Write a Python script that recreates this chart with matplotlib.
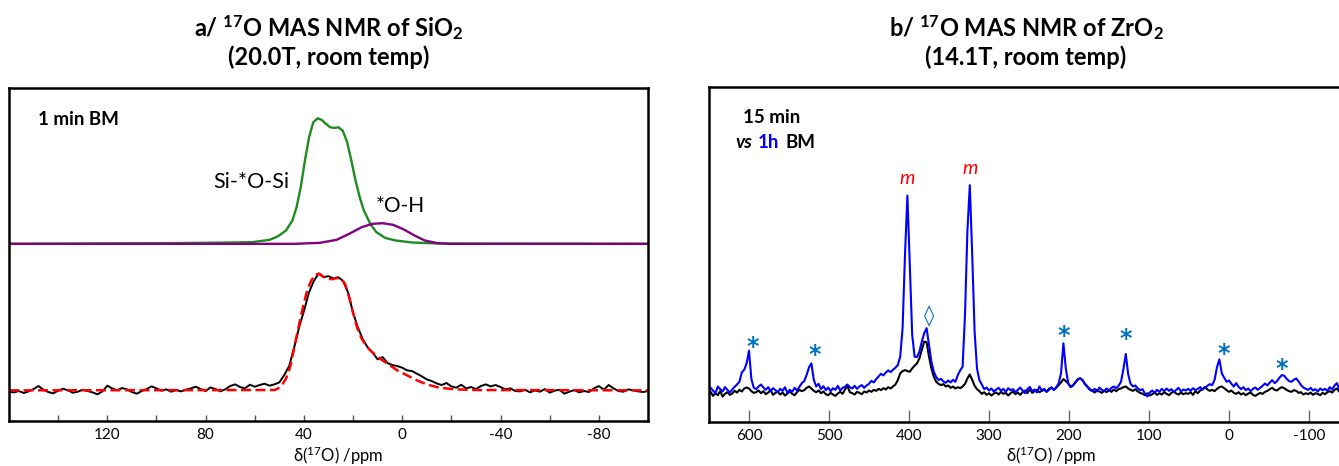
import numpy as np
import matplotlib
matplotlib.use("Agg")
import matplotlib.pyplot as plt
from matplotlib.ticker import MultipleLocator

plt.rcParams["font.family"] = ["Lato", "DejaVu Sans"]
plt.rcParams["mathtext.fontset"] = "custom"
plt.rcParams["mathtext.rm"] = "Lato"
plt.rcParams["mathtext.it"] = "Lato:italic"
plt.rcParams["mathtext.bf"] = "Lato:bold"
plt.rcParams["axes.unicode_minus"] = False

# ---- panel a: SiO2 (20.0 T) ----
# fitted components (ppm, intensity)
green_ppm = [160, 95, 70, 61, 54, 50.7, 47.3, 44.7, 43, 41.3, 39.6, 37.9, 36.2, 34.4, 32.7, 31, 29.3,
             27.6, 25.9, 24.2, 22.4, 20.7, 19, 17.3, 15.6, 13, 10.5, 7, 2.7, -4.1, -14.4, -100]
green_int = [53.2, 53.4, 53.6, 53.7, 54.4, 55.4, 57.2, 60.2, 64.2, 70.2, 78.2, 85.2, 89.7, 90.9, 90.4, 89.2, 88.2,
             88.0, 88.2, 87.2, 83.7, 78.2, 72.2, 67.2, 63.2, 59.2, 56.7, 55.0, 54.2, 53.6, 53.3, 53.2]

purple_ppm = [160, 43.9, 33.6, 26.7, 21.6, 16.5, 12.2, 8, 3.6, -0.7, -5, -9.2, -14.4, -19.5, -100]
purple_int = [53.2, 53.2, 53.5, 54.4, 56.2, 58.2, 59.2, 59.4, 58.9, 57.5, 55.7, 54.2, 53.4, 53.2, 53.2]

fit_ppm = [160, 52, 50.7, 49, 47.3, 45.6, 43.9, 42.2, 40.4, 38.7, 37, 35.3, 33.6, 31.9, 30.2, 28.4, 26.7, 25,
           23.3, 21.6, 19.9, 18.2, 16.5, 14.7, 13, 10, 6, 2, -2, -6, -10, -15, -22, -30, -100]
fit_int = [9.2, 9.3, 9.7, 10.7, 12.7, 16.2, 22.2, 28.2, 34.2, 39.2, 42.2, 44.0, 44.2, 43.2, 42.7, 42.6, 42.9, 42.8,
           41.2, 37.2, 32.2, 27.7, 24.7, 22.7, 21.2, 19.2, 17.2, 15.2, 13.7, 12.2, 11.0, 10.0, 9.5, 9.3, 9.2]

# experimental spectrum, 160 ... -100 ppm every 2 ppm
sio2_ppm = np.arange(160, -101, -2)
sio2_int = [
    8.8, 8.6, 9.0, 8.4, 8.9, 9.6, 10.5, 9.4, 8.7, 8.3,
    9.1, 9.7, 9.2, 8.5, 8.8, 9.4, 9.0, 8.6, 8.0, 8.9,
    10.6, 9.8, 9.2, 9.9, 9.5, 8.7, 8.2, 9.0, 9.6, 10.4,
    9.8, 9.1, 9.5, 8.8, 9.3, 8.9, 9.4, 9.8, 10.3, 9.6,
    9.0, 10.1, 9.6, 8.9, 9.5, 10.5, 11.0, 10.2, 9.8, 10.9,
    10.3, 10.8, 11.2, 10.6, 11.0, 11.6, 13.8, 16.5, 22.0, 28.0,
    33.0, 38.5, 42.0, 44.3, 43.2, 43.5, 42.8, 43.2, 42.0, 38.5,
    32.5, 28.0, 24.5, 22.0, 20.5, 18.5, 19.2, 17.4, 16.8, 16.5,
    16.0, 15.2, 15.0, 14.2, 13.4, 12.5, 12.0, 11.3, 10.8, 11.4,
    10.4, 10.0, 10.9, 9.8, 10.2, 9.6, 10.5, 11.0, 10.4, 10.8,
    10.2, 9.5, 9.8, 9.0, 8.9, 9.4, 8.6, 9.2, 8.8, 9.6,
    8.5, 9.1, 9.4, 8.2, 8.8, 9.3, 8.6, 9.0, 8.7, 9.8,
    10.5, 9.4, 10.8, 9.8, 9.0, 8.8, 9.5, 9.2, 8.9, 8.7,
    9.0,
]
sio2_ticks = [120, 80, 40, 0, -40, -80]
sio2_minor = [140, 100, 60, 20, -20, -60]

# ---- panel b: ZrO2 (14.1 T), 651 ... -141 ppm every 3 ppm ----
zro2_ppm = np.arange(651, -142, -3)
zro2_1h = [
    9.0, 10.2, 9.4, 8.5, 10.6, 9.8, 9.1, 10.4, 9.6, 8.8,
    9.7, 10.5, 11.2, 12.0, 14.8, 15.6, 17.5, 21.3, 12.8, 10.2,
    9.8, 10.6, 11.2, 10.3, 9.6, 10.4, 9.2, 10.1, 9.5, 8.9,
    9.9, 9.3, 10.4, 8.7, 9.6, 9.0, 10.2, 9.4, 10.5, 11.6,
    12.2, 14.0, 16.3, 17.5, 12.6, 10.6, 11.4, 9.8, 10.7, 9.5,
    10.3, 9.2, 10.1, 9.6, 10.8, 9.4, 10.2, 10.5, 11.2, 10.4,
    10.0, 10.8, 9.9, 10.6, 11.0, 10.2, 10.9, 11.4, 12.3, 11.8,
    12.8, 13.6, 14.4, 13.9, 14.8, 15.4, 14.9, 15.6, 16.2, 17.0,
    19.5, 28.0, 50.0, 67.6, 47.0, 26.0, 19.5, 19.4, 21.0, 24.0,
    26.5, 28.0, 23.0, 18.0, 15.0, 13.4, 12.5, 12.9, 12.1, 11.7,
    12.4, 11.8, 12.6, 12.0, 14.0, 15.4, 16.5, 32.0, 57.0, 70.7,
    50.0, 27.0, 16.0, 12.5, 11.2, 9.8, 10.3, 9.4, 10.0, 9.1,
    9.7, 10.2, 9.3, 9.9, 9.0, 10.1, 9.5, 9.8, 8.9, 9.6,
    10.3, 9.4, 8.6, 9.8, 10.5, 9.2, 9.7, 8.8, 10.6, 9.4,
    9.9, 9.0, 9.6, 10.3, 9.5, 10.4, 11.5, 14.5, 23.5, 16.0,
    11.6, 10.4, 10.9, 11.8, 12.6, 13.0, 12.4, 11.2, 10.5, 9.6,
    9.2, 9.9, 9.1, 10.3, 9.6, 9.3, 10.0, 9.4, 10.2, 10.6,
    10.1, 10.8, 12.0, 15.8, 20.3, 14.2, 11.4, 10.6, 10.9, 10.0,
    9.5, 9.8, 8.4, 7.6, 8.8, 9.4, 8.7, 9.6, 9.0, 9.9,
    9.2, 10.0, 9.3, 9.8, 8.9, 9.6, 10.2, 9.1, 9.7, 9.4,
    9.9, 9.3, 10.1, 9.5, 9.9, 10.4, 9.7, 10.2, 10.8, 11.3,
    11.0, 12.6, 16.4, 18.7, 14.5, 13.2, 12.0, 12.4, 11.4, 10.6,
    11.6, 10.5, 9.8, 10.4, 9.5, 10.0, 9.2, 9.9, 10.3, 9.6,
    10.2, 10.8, 11.5, 10.9, 11.8, 12.5, 11.6, 12.2, 13.2, 14.0,
    13.8, 12.9, 12.2, 12.0, 12.6, 13.0, 12.1, 11.0, 10.3, 9.9,
    9.6, 10.2, 9.4, 9.8, 9.1, 10.0, 9.5, 9.9, 9.3, 10.4,
    9.7, 10.9, 11.6, 9.6, 10.3,
]
zro2_15min = [
    8.2, 9.0, 7.8, 8.6, 8.0, 9.2, 7.6, 8.4, 8.9, 8.1,
    8.5, 9.3, 8.8, 9.6, 9.1, 10.0, 10.3, 10.0, 9.2, 8.7,
    8.9, 9.4, 8.6, 9.2, 8.3, 8.8, 9.5, 8.1, 8.7, 9.0,
    8.2, 8.8, 7.9, 8.5, 9.1, 8.4, 8.0, 8.9, 9.6, 9.2,
    9.5, 10.2, 10.6, 10.0, 9.3, 8.9, 9.4, 8.6, 9.1, 8.3,
    8.0, 8.7, 8.2, 7.8, 8.5, 9.0, 8.4, 9.7, 10.8, 8.9,
    8.6, 8.2, 9.0, 8.7, 8.3, 9.1, 8.8, 9.4, 9.0, 9.6,
    9.3, 9.9, 9.5, 10.1, 9.7, 10.4, 10.0, 10.6, 11.2, 12.5,
    14.5, 15.2, 15.5, 15.2, 15.0, 16.0, 16.8, 17.5, 19.0, 21.5,
    24.0, 23.8, 19.5, 16.0, 13.5, 12.0, 11.4, 11.0, 11.3, 10.6,
    10.9, 10.2, 10.6, 10.0, 10.4, 10.1, 10.6, 11.4, 13.0, 14.2,
    12.6, 10.8, 9.8, 9.2, 8.4, 8.9, 8.1, 8.6, 7.9, 8.5,
    8.8, 8.2, 9.0, 8.4, 8.7, 7.9, 8.6, 9.1, 8.3, 8.8,
    8.1, 8.9, 9.4, 8.6, 9.8, 8.7, 9.2, 9.6, 8.9, 9.3,
    9.6, 9.0, 9.9, 10.3, 9.7, 10.2, 11.0, 11.8, 12.8, 12.2,
    11.5, 10.6, 10.9, 11.9, 12.8, 13.1, 12.5, 11.4, 10.6, 9.8,
    9.4, 8.8, 9.6, 9.1, 8.7, 9.3, 8.9, 9.5, 9.0, 9.7,
    9.2, 9.8, 10.0, 10.4, 10.6, 10.0, 9.6, 9.3, 9.8, 9.1,
    8.7, 8.4, 8.0, 8.6, 7.9, 8.3, 8.8, 8.1, 8.6, 8.2,
    8.9, 8.4, 8.0, 8.7, 9.1, 8.5, 8.2, 8.8, 8.3, 8.6,
    8.4, 8.9, 8.1, 9.2, 8.6, 9.4, 9.8, 10.5, 9.7, 9.3,
    9.6, 9.2, 9.9, 10.4, 10.6, 10.1, 9.5, 9.0, 9.4, 8.7,
    8.4, 8.9, 8.2, 8.6, 8.0, 8.5, 8.8, 8.1, 7.8, 8.3,
    8.7, 8.4, 9.0, 9.3, 9.8, 10.2, 9.6, 9.4, 10.0, 10.4,
    10.1, 9.6, 9.2, 9.0, 9.5, 9.3, 8.7, 8.9, 8.2, 8.6,
    8.3, 8.8, 8.1, 8.6, 8.4, 8.0, 8.7, 8.3, 8.9, 9.2,
    8.8, 9.6, 10.0, 9.0, 9.4,
]

# sideband markers (ppm, height) and monoclinic labels
star_ppm = [595, 518, 206, 129.6, 7, -66.5]
star_y = [23.8, 21.5, 27.3, 26.3, 21.9, 17.4]
m_ppm = [402.7, 323.6]
m_y = [72.7, 75.7]

W, H = 1339, 466
fig = plt.figure(figsize=(W / 100, H / 100), dpi=100)

ax1 = fig.add_axes([9 / W, (H - 421) / H, 639 / W, 333 / H])
ax2 = fig.add_axes([709 / W, (H - 422) / H, 640 / W, 335 / H])

# panel a
ax1.plot(green_ppm, green_int, color="#1e8c1e", lw=1.7)
ax1.plot(purple_ppm, purple_int, color="#800080", lw=1.7)
ax1.plot(sio2_ppm, sio2_int, color="black", lw=1.4)
ax1.plot(fit_ppm, fit_int, color="#ff0000", lw=1.8, dashes=(4, 1.8))
ax1.set_xlim(160, -100)
ax1.set_ylim(0, 100)
ax1.set_xticks(sio2_ticks)
ax1.set_xticks(sio2_minor, minor=True)
ax1.tick_params(axis="x", which="both", direction="in", length=4, width=1, color="#555555",
                labelsize=11, pad=5)
ax1.set_yticks([])
ax1.text(61.5, 71.8, "Si-*O-Si", fontsize=15.5, ha="center", va="center")
ax1.text(0.7, 64.6, "*O-H", fontsize=15, ha="center", va="center")
ax1.text(0.046, 0.904, "1 min BM", transform=ax1.transAxes, fontsize=13.5, fontweight="bold",
         ha="left", va="center")

# panel b
ax2.plot(zro2_ppm, zro2_15min, color="black", lw=1.5)
ax2.plot(zro2_ppm, zro2_1h, color="#0000ff", lw=1.5)
ax2.set_xlim(650, -150)
ax2.set_ylim(0, 100)
ax2.xaxis.set_major_locator(MultipleLocator(100))
ax2.tick_params(axis="x", direction="in", length=9, width=1, color="#666666", labelsize=11, pad=5)
ax2.set_yticks([])
for p, y in zip(star_ppm, star_y):
    ax2.text(p, y - 1.5, "*", color="#0070c0", fontsize=17, fontweight="bold", ha="center",
             va="center", family=["DejaVu Sans"])
for p, y in zip(m_ppm, m_y):
    ax2.text(p, y, "m", color="#ff0000", fontsize=14, style="italic", ha="center", va="center")
ax2.text(375.3, 31.6, "\u25ca", color="#0070c0", fontsize=15, ha="center", va="center",
         family=["DejaVu Sans"])
ax2.text(0.053, 0.910, "15 min", transform=ax2.transAxes, fontsize=13.5, fontweight="bold",
         va="center")
ax2.text(0.0406, 0.833, "vs", transform=ax2.transAxes, fontsize=13.5, fontweight="bold",
         style="italic", va="center")
ax2.text(0.0766, 0.833, "1h", transform=ax2.transAxes, fontsize=13.5, fontweight="bold",
         color="#0000ff", va="center")
ax2.text(0.119, 0.833, "BM", transform=ax2.transAxes, fontsize=13.5, fontweight="bold", va="center")

for ax in (ax1, ax2):
    for s in ax.spines.values():
        s.set_linewidth(1.8)

# titles and axis labels
fig.text(328.5 / W, 1 - 28 / H, r"a/ $^{\mathbf{17}}$O MAS NMR of SiO$_{\mathbf{2}}$",
         fontsize=17, fontweight="bold", ha="center", va="center")
fig.text(328.5 / W, 1 - 57 / H, "(20.0T, room temp)", fontsize=17, fontweight="bold",
         ha="center", va="center")
fig.text(1026 / W, 1 - 28 / H, r"b/ $^{\mathbf{17}}$O MAS NMR of ZrO$_{\mathbf{2}}$",
         fontsize=17, fontweight="bold", ha="center", va="center")
fig.text(1026 / W, 1 - 57 / H, "(14.1T, room temp)", fontsize=17, fontweight="bold",
         ha="center", va="center")
fig.text(338 / W, 1 - 456 / H, r"δ($^{17}$O) /ppm", fontsize=12, ha="center", va="center")
fig.text(1051 / W, 1 - 456 / H, r"δ($^{17}$O) /ppm", fontsize=12, ha="center", va="center")

fig.savefig("out.png", dpi=100)
